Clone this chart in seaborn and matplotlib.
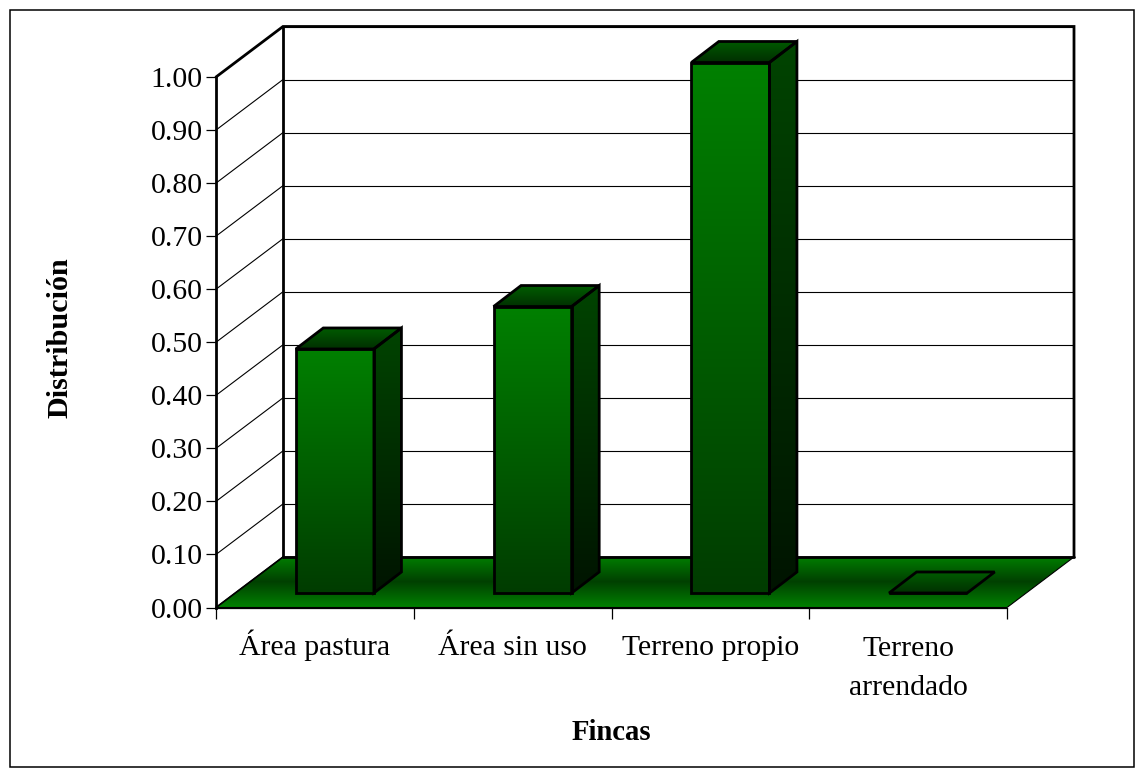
import matplotlib
matplotlib.use("Agg")
import matplotlib.pyplot as plt
from matplotlib.colors import LinearSegmentedColormap
from matplotlib.patches import Polygon, Rectangle
import seaborn as sns
import numpy as np

categories = ["Área pastura", "Área sin uso", "Terreno propio", "Terreno\narrendado"]
values = [0.46, 0.54, 1.00, 0.00]
y_ticks = [0.0, 0.1, 0.2, 0.3, 0.4, 0.5, 0.6, 0.7, 0.8, 0.9, 1.0]

W, H = 1143, 777
LEFT, RIGHT, BASE, TOP = 216, 1007, 607.5, 77
SLOT = (RIGHT - LEFT) / 4
YPX = BASE - TOP

sns.set_theme(style="white")
plt.rcParams["font.family"] = ["Liberation Serif", "DejaVu Serif"]
FS = 21.4

fig = plt.figure(figsize=(W / 100, H / 100), dpi=100, facecolor="white")


def gradient(ax, poly, top_col, bot_col, zorder, mid_col=None):
    # vertical colour ramp clipped to a polygon, free to leave the axes box
    cols = [top_col, bot_col] if mid_col is None else [top_col, mid_col, bot_col]
    cmap = LinearSegmentedColormap.from_list("g", cols)
    pts = np.array(poly)
    im = ax.imshow(np.linspace(0, 1, 256).reshape(-1, 1), cmap=cmap, aspect="auto",
                   extent=(pts[:, 0].min(), pts[:, 0].max(), pts[:, 1].min(), pts[:, 1].max()),
                   origin="upper", zorder=zorder)
    clip = Polygon(poly, closed=True, transform=ax.transData, facecolor="none", edgecolor="none")
    ax.add_patch(clip)
    im.set_clip_path(clip)
    im.set_clip_box(fig.bbox)
    return im


# front plane axes: walls, floor and ticks
ax = fig.add_axes([LEFT / W, (H - BASE) / H, (RIGHT - LEFT) / W, YPX / H])
ax.patch.set_alpha(0)
ax.set_xlim(-0.5, 3.5)
ax.set_ylim(0, 1)
bx = 67 / SLOT
by = 50.5 / YPX

for t in y_ticks[1:]:
    ax.plot([-0.5 + bx, 3.5 + bx], [t + by, t + by], color="black", lw=0.8, clip_on=False, zorder=1)
    ax.plot([-0.5, -0.5 + bx], [t, t + by], color="black", lw=0.8, clip_on=False, zorder=1)

floor = [(-0.5, 0), (3.5, 0), (3.5 + bx, by), (-0.5 + bx, by)]
gradient(ax, floor, "#008000", "#008000", 1.5, mid_col="#004000")
ax.set_xlim(-0.5, 3.5)
ax.set_ylim(0, 1)
ax.add_patch(Polygon(floor, closed=True, fill=False, edgecolor="black", lw=0.8, clip_on=False, zorder=1.6))

# thick wall outline
ax.plot([-0.5, -0.5 + bx, 3.5 + bx, 3.5 + bx], [1, 1 + by, 1 + by, by], color="black", lw=2.0,
        clip_on=False, zorder=2, solid_joinstyle="miter")
ax.plot([-0.5 + bx, -0.5 + bx], [by, 1 + by], color="black", lw=2.0, clip_on=False, zorder=2)
ax.plot([-0.5 + bx, 3.5 + bx], [by, by], color="black", lw=2.0, clip_on=False, zorder=2)
ax.plot([-0.5, -0.5 + bx], [0, by], color="black", lw=1.2, clip_on=False, zorder=2)

for s in ["top", "right"]:
    ax.spines[s].set_visible(False)
ax.spines["left"].set_linewidth(2.0)
ax.spines["left"].set_color("black")
ax.spines["left"].set_zorder(3)
ax.spines["bottom"].set_linewidth(0.9)
ax.spines["bottom"].set_color("black")
ax.spines["bottom"].set_zorder(3)

ax.set_yticks(y_ticks)
ax.set_yticklabels([f"{t:.2f}" for t in y_ticks], fontsize=FS, color="black")
ax.tick_params(axis="y", left=True, length=7.5, width=0.9, color="black", pad=2)
ax.set_xticks(np.arange(-0.5, 4, 1))
ax.set_xticklabels([])
ax.tick_params(axis="x", which="major", bottom=True, length=8, width=0.9, color="black")
ax.grid(False)

# category labels on a shared baseline, the accent on the A would shift real tick labels
for i, name in enumerate(categories):
    last_baseline = 655 + 40 * name.count("\n")
    ax.text(i, -(last_baseline - BASE) / YPX, name, transform=ax.get_xaxis_transform(), fontsize=FS,
            ha="center", va="baseline", multialignment="center", color="black", linespacing=1.66)

# bars sit part way into the floor, so they get their own shifted axes
shift_x, shift_y = 20, 14.5
bar_ax = fig.add_axes([(LEFT + shift_x) / W, (H - BASE + shift_y) / H, (RIGHT - LEFT) / W, YPX / H])
bar_ax.patch.set_alpha(0)
sns.barplot(x=list(range(4)), y=values, ax=bar_ax, color="#008000", saturation=1, width=0.395,
            edgecolor="black", linewidth=2.0, zorder=5)
bar_ax.set_xlim(-0.5, 3.5)
bar_ax.set_ylim(0, 1)
bar_ax.axis("off")

dx = 27.5 / SLOT
dy = 21 / YPX
for p in list(bar_ax.patches):
    x0, w, h = p.get_x(), p.get_width(), p.get_height()
    x1 = x0 + w
    p.set_facecolor("none")
    p.set_clip_on(False)
    top = [(x0, h), (x1, h), (x1 + dx, h + dy), (x0 + dx, h + dy)]
    side = [(x1, 0), (x1 + dx, dy), (x1 + dx, h + dy), (x1, h)]
    if h > 0:
        gradient(bar_ax, [(x0, 0), (x1, 0), (x1, h), (x0, h)], "#008000", "#003c00", 3)
        gradient(bar_ax, side, "#004400", "#001400", 3)
    gradient(bar_ax, top, "#005c00", "#003000", 3)
    bar_ax.add_patch(Polygon(top, closed=True, fill=False, edgecolor="black", lw=2.0, clip_on=False,
                             zorder=6, joinstyle="miter"))
    if h > 0:
        bar_ax.add_patch(Polygon(side, closed=True, fill=False, edgecolor="black", lw=2.0, clip_on=False,
                                 zorder=6, joinstyle="miter"))
bar_ax.set_xlim(-0.5, 3.5)
bar_ax.set_ylim(0, 1)

fig.text(611.5 / W, 1 - 732 / H, "Fincas", fontsize=20.7, fontweight="bold", ha="center", va="center", color="black")
fig.text(60.5 / W, 1 - 338 / H, "Distribución", fontsize=21.7, fontweight="bold", rotation=90,
         ha="center", va="center", color="black")

# chart area border
fig.add_artist(Rectangle((10 / W, 1 - 767 / H), 1124 / W, 757 / H, transform=fig.transFigure,
                         fill=False, edgecolor="black", lw=1.1))

fig.savefig("out.png", dpi=100)
